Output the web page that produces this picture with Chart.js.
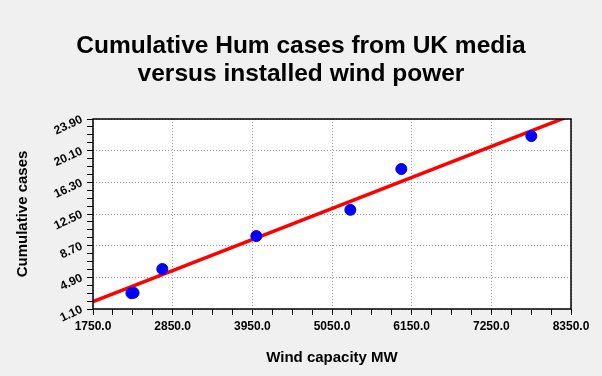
<!DOCTYPE html>
<html>
<head>
<meta charset="utf-8">
<script src="https://cdn.jsdelivr.net/npm/chart.js@4/dist/chart.umd.min.js"></script>
<style>
  html, body { margin: 0; padding: 0; background: #f0f0f0; }
  #wrap { width: 602px; height: 376px; position: relative; }
</style>
</head>
<body>
<div id="wrap"><canvas id="humChart"></canvas></div>
<script>
// data
const windMW = [2280, 2310, 2707, 4005, 5303, 6007, 7802];
const cumCases = [3.0, 3.05, 5.9, 9.85, 13.0, 17.9, 21.85];

// fitted trend line (end points)
const fitMW = [1750, 8350];
const fitCases = [1.98, 24.33];

// axis tick labels
const xTicks = [1750, 2850, 3950, 5050, 6150, 7250, 8350];
const yTicks = [1.10, 4.90, 8.70, 12.50, 16.30, 20.10, 23.90];

const FONT = "'Liberation Sans', Arial, sans-serif";

// majors from the arrays, 3 minors between each pair
function withMinors(major) {
    const out = [];
    for (let i = 0; i < major.length; i++) {
        out.push({ value: major[i], major: true });
        if (i < major.length - 1) {
            const step = (major[i + 1] - major[i]) / 4;
            for (let k = 1; k < 4; k++) out.push({ value: major[i] + step * k, major: false });
        }
    }
    return out;
}

const plotFrame = {
    id: 'plotFrame',
    beforeDraw(chart) {
        const { ctx, chartArea: a } = chart;
        ctx.save();
        ctx.fillStyle = '#f0f0f0';
        ctx.fillRect(0, 0, chart.width, chart.height);
        ctx.fillStyle = '#ffffff';
        ctx.fillRect(a.left, a.top, a.right - a.left, a.bottom - a.top);
        ctx.restore();
    },
    afterDraw(chart) {
        const { ctx, chartArea: a } = chart;
        ctx.save();
        ctx.strokeStyle = '#000';
        ctx.lineWidth = 1.5;
        ctx.strokeRect(a.left, a.top, a.right - a.left, a.bottom - a.top);
        ctx.restore();
    }
};

const gridColor = c => (c.tick && c.tick.major ? '#999999' : 'rgba(0,0,0,0)');

new Chart(document.getElementById('humChart'), {
    type: 'scatter',
    data: {
        datasets: [{
            label: 'Trend',
            type: 'line',
            data: fitMW.map((x, i) => ({ x: x, y: fitCases[i] })),
            borderColor: '#ff0000',
            borderWidth: 3.5,
            pointRadius: 0,
            fill: false,
            clip: 0,
            order: 2
        }, {
            label: 'Cases',
            data: windMW.map((x, i) => ({ x: x, y: cumCases[i] })),
            backgroundColor: '#0000ff',
            borderColor: '#0000ff',
            pointRadius: 5.5,
            order: 1
        }]
    },
    plugins: [plotFrame],
    options: {
        responsive: true,
        maintainAspectRatio: false,
        animation: false,
        layout: { padding: { left: 14, right: 14, top: 0, bottom: 0 } },
        plugins: {
            legend: { display: false },
            tooltip: { enabled: false },
            title: {
                display: true,
                text: ['Cumulative Hum cases from UK media', 'versus installed wind power'],
                color: '#000',
                font: { family: FONT, size: 24.5, weight: 'bold', lineHeight: '28px' },
                padding: { top: 32, bottom: 31 }
            }
        },
        scales: {
            x: {
                type: 'linear',
                min: 1750,
                max: 8350,
                afterBuildTicks: s => { s.ticks = withMinors(xTicks); },
                afterFit: s => { s.height = 67; },
                ticks: {
                    autoSkip: false,
                    maxRotation: 0,
                    padding: 4,
                    color: '#000',
                    font: { family: FONT, size: 12, weight: 'bold' },
                    callback: (v, i, t) => (t[i].major ? Number(v).toFixed(1) : '')
                },
                grid: { color: gridColor, tickColor: '#000', tickLength: 6, lineWidth: 1 },
                border: { display: false, dash: [1, 2] },
                title: {
                    display: true,
                    text: 'Wind capacity MW',
                    color: '#000',
                    font: { family: FONT, size: 15, weight: 'bold', lineHeight: '18px' },
                    padding: { top: 0, bottom: 9 }
                }
            },
            y: {
                type: 'linear',
                min: 1.10,
                max: 23.90,
                afterBuildTicks: s => { s.ticks = withMinors(yTicks); },
                afterFit: s => { s.width = 79; },
                ticks: {
                    autoSkip: false,
                    minRotation: 25,
                    maxRotation: 25,
                    padding: 5,
                    color: '#000',
                    font: { family: FONT, size: 12, weight: 'bold' },
                    callback: (v, i, t) => (t[i].major ? Number(v).toFixed(2) : '')
                },
                grid: { color: gridColor, tickColor: '#000', tickLength: 6, lineWidth: 1 },
                border: { display: false, dash: [1, 2] },
                title: {
                    display: true,
                    text: 'Cumulative cases',
                    color: '#000',
                    font: { family: FONT, size: 15, weight: 'bold', lineHeight: '18px' },
                    padding: { top: 0, bottom: 0 }
                }
            },
            // empty spacer on the right so the title stays centred on the page
            spacer: {
                type: 'linear',
                position: 'right',
                min: 0,
                max: 1,
                afterFit: s => { s.width = 17; },
                ticks: { display: false },
                grid: { display: false, drawTicks: false },
                border: { display: false }
            }
        }
    }
});
</script>
</body>
</html>
